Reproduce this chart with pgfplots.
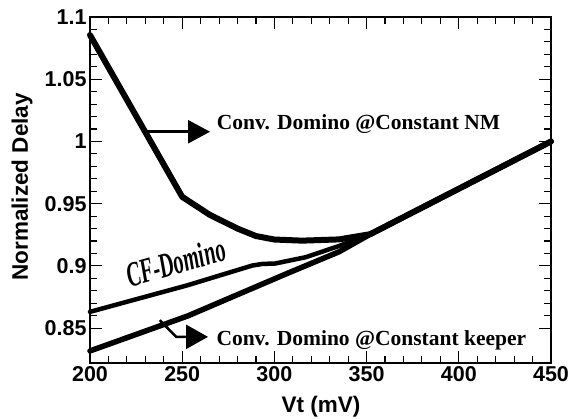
\documentclass[border=0pt]{standalone}
\usepackage{pgfplots}
\pgfplotsset{compat=1.18}
\usepackage{fontspec}
\setmainfont{Liberation Sans}
\newfontfamily\tnr{Liberation Serif}
\usetikzlibrary{arrows.meta}

\pgfplotstableread{
x y
200 1.0855
250 0.9555
265 0.9410
280 0.9300
290 0.9240
300 0.9212
315 0.9203
335 0.9213
352 0.9255
400 0.9620
450 1.0000
}\nm

\pgfplotstableread{
x y
200 0.8631
253 0.8845
288 0.9003
294 0.9017
300 0.9018
317 0.9070
335 0.9160
352 0.9255
400 0.9620
450 1.0000
}\cf

\pgfplotstableread{
x y
200 0.8317
253 0.8598
307 0.8940
335 0.9113
352 0.9255
400 0.9620
450 1.0000
}\keeper

\begin{document}
\begin{tikzpicture}
\path[use as bounding box] (-90pt,-56pt) rectangle (484pt,363pt);
\begin{axis}[
  at={(0pt,0pt)}, anchor=south west,
  scale only axis,
  width=461pt, height=346pt,
  xmin=200, xmax=450, ymin=0.822, ymax=1.1,
  xtick={200,250,300,350,400,450},
  ytick={0.85,0.9,0.95,1,1.05,1.1},
  yticklabels={0.85,0.9,0.95,1,1.05,1.1},
  xticklabels={200,250,300,350,400,450},
  minor x tick num=4,
  minor y tick num=4,
  tick align=inside,
  tick pos=both,
  major tick length=12pt,
  minor tick length=7pt,
  every tick/.style={black, line width=1.1pt},
  axis line style={line width=1.5pt},
  ticklabel style={font=\fontsize{21.5}{21.5}\selectfont\bfseries},
  /pgf/number format/assume math mode=true,
  xlabel={Vt (mV)},
  ylabel={Normalized Delay},
  label style={font=\fontsize{22.5}{22.5}\selectfont\bfseries},
  xlabel style={at={(axis description cs:0.501,-0.127)}, anchor=center},
  ylabel style={at={(axis description cs:-0.1475,0.509)}, anchor=center, rotate=0},
  clip=false,
]
\addplot[black, line width=6pt, line join=round, line cap=round] table {\nm};
\addplot[black, line width=4.5pt, line join=round, line cap=round] table {\cf};
\addplot[black, line width=5.5pt, line join=round, line cap=round] table {\keeper};

% NM annotation
\draw[line width=2.5pt, -{Triangle[length=22pt,width=23pt]}] (axis cs:230.7,1.0078) -- (axis cs:265.1,1.0078);
\node[anchor=base west, inner sep=0pt, font=\tnr\bfseries\fontsize{21.5}{21.5}\selectfont] at (axis cs:268.7,1.0095) {Conv. Domino @Constant NM};

% keeper annotation
\draw[line width=2.5pt, -{Triangle[length=22pt,width=24pt]}] (axis cs:237.8,0.8564) -- (axis cs:246.8,0.8430) -- (axis cs:264.0,0.8430);
\node[anchor=base west, inner sep=0pt, font=\tnr\bfseries\fontsize{21.5}{21.5}\selectfont] at (axis cs:268.5,0.8357) {Conv. Domino @Constant keeper};

% CF-Domino label
\node[rotate=16, inner sep=0pt] at (axis cs:246.5,0.9030) {\tnr\bfseries\itshape\fontsize{35}{35}\selectfont\scalebox{0.58}[1]{CF-Domino}};
\end{axis}
\end{tikzpicture}
\end{document}
